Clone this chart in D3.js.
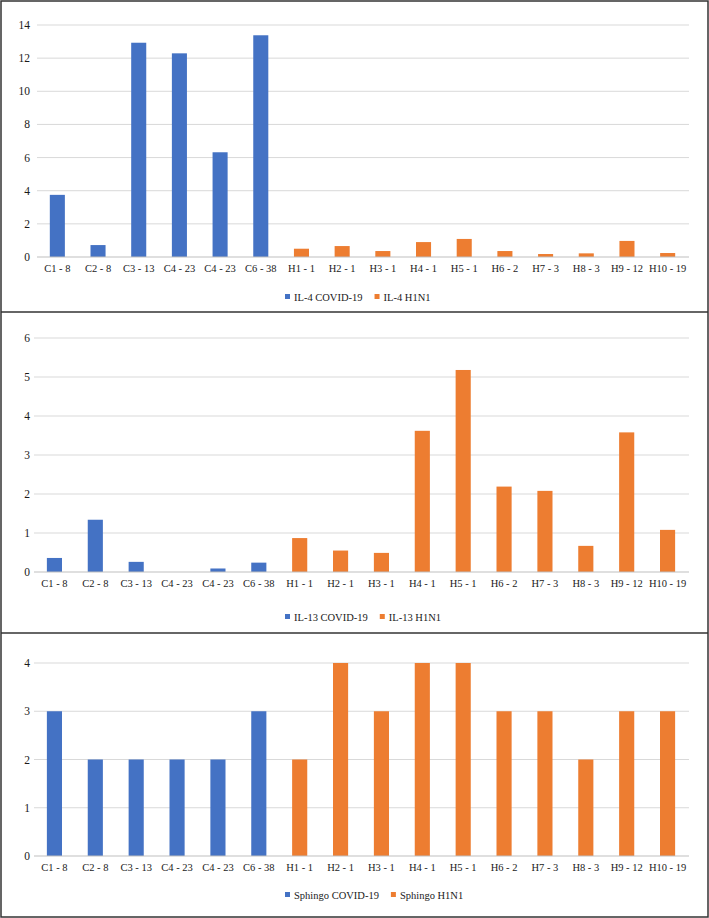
<!DOCTYPE html>
<html>
<head>
<meta charset="utf-8">
<script src="https://cdn.jsdelivr.net/npm/d3@7"></script>
<style>
  body { margin: 0; background: #fff; }
</style>
</head>
<body>
<svg width="709" height="918"></svg>
<script>
// categories shared by all three charts
var categories = ["C1 - 8", "C2 - 8", "C3 - 13", "C4 - 23", "C4 - 23", "C6 - 38",
  "H1 - 1", "H2 - 1", "H3 - 1", "H4 - 1", "H5 - 1", "H6 - 2", "H7 - 3", "H8 - 3", "H9 - 12", "H10 - 19"];

// covid values belong to the first 6 categories, h1n1 to the last 10
var il4Covid = [3.75, 0.72, 12.93, 12.29, 6.32, 13.38];
var il4H1n1 = [0.5, 0.66, 0.36, 0.9, 1.09, 0.36, 0.18, 0.22, 0.97, 0.24];

var il13Covid = [0.36, 1.34, 0.26, 0, 0.09, 0.24];
var il13H1n1 = [0.87, 0.55, 0.49, 3.62, 5.18, 2.19, 2.08, 0.67, 3.58, 1.08];

var sphingoCovid = [3, 2, 2, 2, 2, 3];
var sphingoH1n1 = [2, 4, 3, 4, 4, 3, 3, 2, 3, 3];

var il4Ticks = [0, 2, 4, 6, 8, 10, 12, 14];
var il13Ticks = [0, 1, 2, 3, 4, 5, 6];
var sphingoTicks = [0, 1, 2, 3, 4];

var BLUE = "#4472C4", ORANGE = "#ED7D31";
var FONT = "'Liberation Serif'";

var panels = [
  { covid: il4Covid, h1n1: il4H1n1, ticks: il4Ticks, names: ["IL-4 COVID-19", "IL-4 H1N1"],
    x0: 37, x1: 688, yBottom: 257, yTop: 25, legendY: 297 },
  { covid: il13Covid, h1n1: il13H1n1, ticks: il13Ticks, names: ["IL-13 COVID-19", "IL-13 H1N1"],
    x0: 34, x1: 688, yBottom: 572, yTop: 338, legendY: 617 },
  { covid: sphingoCovid, h1n1: sphingoH1n1, ticks: sphingoTicks, names: ["Sphingo COVID-19", "Sphingo H1N1"],
    x0: 34, x1: 688, yBottom: 856, yTop: 663, legendY: 895 }
];

var svg = d3.select("svg");

function drawPanel(p){
  var rows = categories.map(function(c, i){
    var covidSide = i < p.covid.length;
    return {
      cat: i,
      label: c,
      value: covidSide ? p.covid[i] : p.h1n1[i - p.covid.length],
      color: covidSide ? BLUE : ORANGE
    };
  });

  var x = d3.scaleBand()
    .domain(d3.range(categories.length))
    .range([p.x0, p.x1])
    .paddingInner(0.63)
    .paddingOuter(0.315);

  var y = d3.scaleLinear()
    .domain([0, d3.max(p.ticks)])
    .range([p.yBottom, p.yTop]);

  var g = svg.append("g");

  // gridlines
  g.selectAll(".grid").data(p.ticks.slice(1)).enter().append("line")
    .attr("x1", p.x0).attr("x2", p.x1 + 1)
    .attr("y1", function(d){ return y(d) }).attr("y2", function(d){ return y(d) })
    .attr("stroke", "#d9d9d9").attr("stroke-width", 1);

  // y tick labels
  g.selectAll(".ytick").data(p.ticks).enter().append("text")
    .attr("x", 30).attr("y", function(d){ return y(d) })
    .attr("dy", "0.35em")
    .attr("text-anchor", "end")
    .style("font-family", FONT)
    .style("font-size", "11.5px")
    .style("fill", "#1a1a1a")
    .text(function(d){ return d });

  // bars
  g.selectAll(".bar").data(rows).enter().append("rect")
    .attr("x", function(d){ return x(d.cat) })
    .attr("width", x.bandwidth())
    .attr("y", function(d){ return y(d.value) })
    .attr("height", function(d){ return y(0) - y(d.value) })
    .attr("fill", function(d){ return d.color });

  // baseline
  g.append("line")
    .attr("x1", p.x0).attr("x2", p.x1 + 1)
    .attr("y1", y(0)).attr("y2", y(0))
    .attr("stroke", "#bfbfbf").attr("stroke-width", 1);

  // x labels
  g.selectAll(".xtick").data(rows).enter().append("text")
    .attr("x", function(d){ return x(d.cat) + x.bandwidth() / 2 })
    .attr("y", y(0) + 15)
    .attr("text-anchor", "middle")
    .style("font-family", FONT)
    .style("font-size", "10.5px")
    .style("fill", "#1a1a1a")
    .text(function(d){ return d.label });

  // legend
  var lx = 285;
  [BLUE, ORANGE].forEach(function(col, k){
    g.append("rect")
      .attr("x", lx).attr("y", p.legendY - 3)
      .attr("width", 5).attr("height", 5)
      .attr("fill", col);
    var t = g.append("text")
      .attr("x", lx + 9).attr("y", p.legendY + 3.5)
      .style("font-family", FONT)
      .style("font-size", "10.5px")
      .style("fill", "#1a1a1a")
      .text(p.names[k]);
    lx += 9 + t.node().getComputedTextLength() + 12;
  });
}

panels.forEach(drawPanel);

// frame and dividers
svg.append("rect")
  .attr("x", 1).attr("y", 1).attr("width", 707).attr("height", 916)
  .attr("fill", "none").attr("stroke", "#333").attr("stroke-width", 1.5);
[312, 633].forEach(function(yy){
  svg.append("line")
    .attr("x1", 1).attr("x2", 708).attr("y1", yy).attr("y2", yy)
    .attr("stroke", "#333").attr("stroke-width", 1.5);
});
</script>
</body>
</html>
